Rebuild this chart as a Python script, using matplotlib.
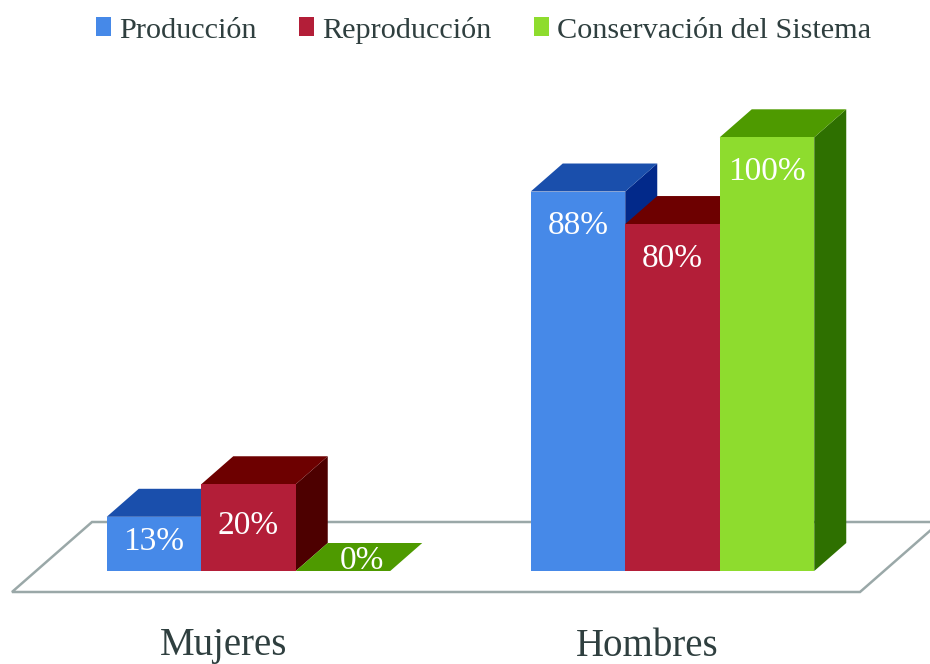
import matplotlib
matplotlib.use('Agg')
import matplotlib.pyplot as plt
from matplotlib.patches import Patch, Polygon

categories = ['Mujeres', 'Hombres']
series_names = ['Producción', 'Reproducción', 'Conservación del Sistema']
produccion = [12.5, 87.5]
reproduccion = [20, 80]
conservacion = [0, 100]
produccion_labels = ['13%', '88%']
reproduccion_labels = ['20%', '80%']
conservacion_labels = ['0%', '100%']

# front, top, side
blues = ['#4689E8', '#1A4FAC', '#02298A']
reds = ['#B31E38', '#6D0000', '#4D0000']
greens = ['#8EDC2E', '#4E9A00', '#2E7000']

PX_X = 424.0   # pixels per category
PX_Y = 4.337   # pixels per percent
BAR_W = 94.5 / PX_X
DEPTH_X = 32 / PX_X
DEPTH_Y = 28 / PX_Y

plt.rcParams['font.family'] = ['Liberation Serif', 'DejaVu Serif']

fig = plt.figure(figsize=(9.3, 6.64), dpi=100)
ax = fig.add_axes([0, 0, 1, 1])
ax.set_xlim(-248.5 / PX_X, (930 - 248.5) / PX_X)
ax.set_ylim(-93 / PX_Y, 571 / PX_Y)
ax.axis('off')


def px_x(px):
    return (px - 248.5) / PX_X


def px_y(px):
    return (571 - px) / PX_Y


# floor of the chart
floor = Polygon(
    [(px_x(12), px_y(592)), (px_x(860), px_y(592)),
     (px_x(940), px_y(522)), (px_x(92), px_y(522))],
    closed=True, facecolor='white', edgecolor='#9AA8A8', linewidth=1.8, zorder=1)
ax.add_patch(floor)

all_series = [(produccion, blues, -1), (reproduccion, reds, 0), (conservacion, greens, 1)]

# sides first, then tops, then fronts, so the bars cover each other properly
for i in range(len(categories)):
    for values, colors, offset in all_series:
        right = i + offset * BAR_W + BAR_W / 2
        h = values[i]
        if h > 0:
            side = [(right, 0), (right + DEPTH_X, DEPTH_Y), (right + DEPTH_X, h + DEPTH_Y), (right, h)]
            ax.add_patch(Polygon(side, closed=True, facecolor=colors[2], edgecolor='none', zorder=2))
    for values, colors, offset in all_series:
        left = i + offset * BAR_W - BAR_W / 2
        right = left + BAR_W
        h = values[i]
        top = [(left, h), (right, h), (right + DEPTH_X, h + DEPTH_Y), (left + DEPTH_X, h + DEPTH_Y)]
        ax.add_patch(Polygon(top, closed=True, facecolor=colors[1], edgecolor='none', zorder=3))
    for values, colors, offset in all_series:
        ax.bar(i + offset * BAR_W, values[i], width=BAR_W, color=colors[0], linewidth=0, zorder=4)

# value labels
all_labels = [produccion_labels, reproduccion_labels, conservacion_labels]
for i in range(len(categories)):
    for (values, colors, offset), labels in zip(all_series, all_labels):
        h = values[i]
        x = i + offset * BAR_W
        if h == 0:
            x += 19 / PX_X
            y = 2.3
        elif h < 50:
            y = h / 2 + 0.5
        else:
            y = h - 8
        ax.text(x, y, labels[i], color='white', fontsize=24, ha='center', va='center', zorder=5)

# category names sit left of the group centres in the original
for i, name in enumerate(categories):
    ax.text(i - 25 / PX_X, px_y(646), name, color='#2F3F3F', fontsize=28, ha='center', va='center')

handles = [Patch(facecolor=c[0], edgecolor='none') for c in (blues, reds, greens)]
ax.legend(handles, series_names, loc='center', ncol=3,
          bbox_to_anchor=(483.5 / 930, 1 - 30 / 664), frameon=False, fontsize=21.8,
          labelcolor='#2F3F3F', handlelength=0.5, handleheight=0.6,
          handletextpad=0.26, columnspacing=1.4, borderpad=0, borderaxespad=0)

fig.savefig('out.png', dpi=100)
